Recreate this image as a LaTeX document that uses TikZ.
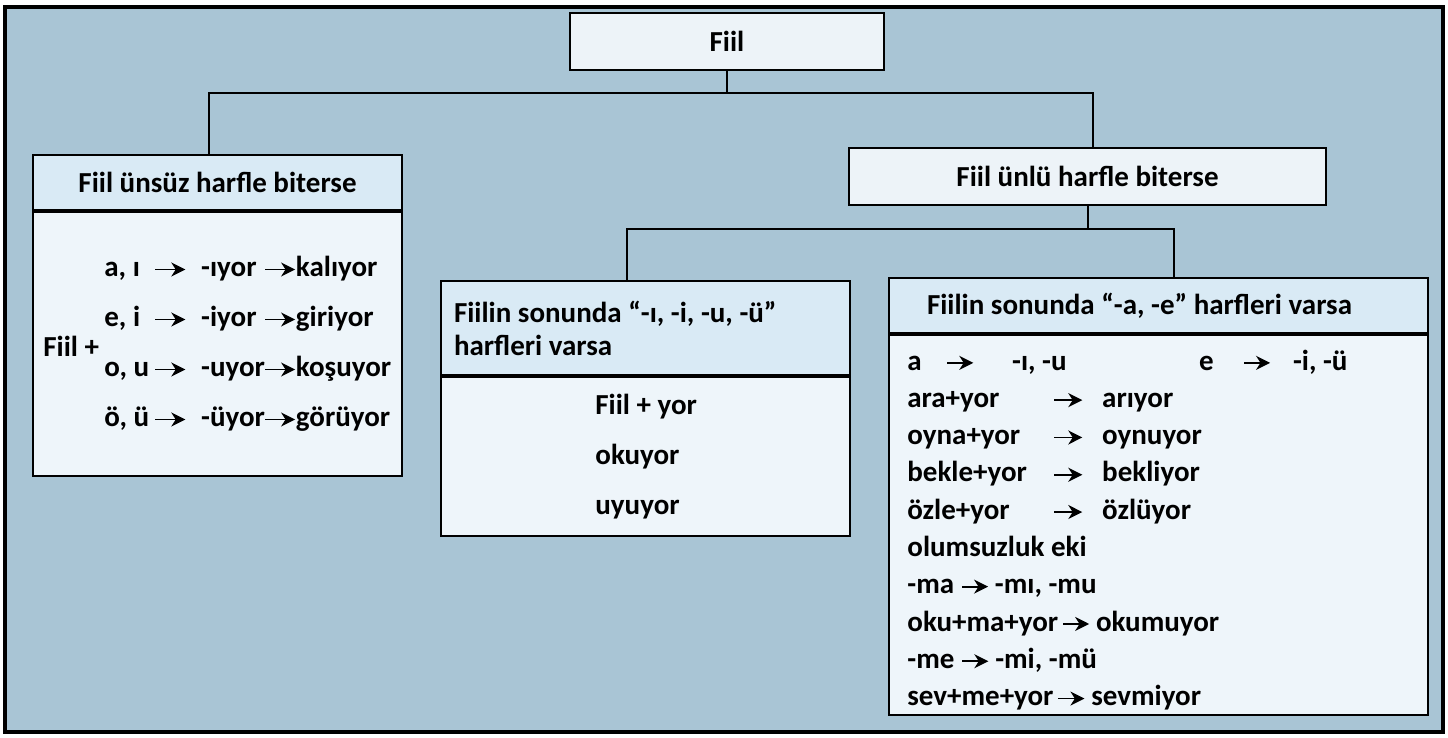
\documentclass[tikz,border=0pt]{standalone}
\usepackage{fontspec}
\setmainfont{Carlito}
\usetikzlibrary{arrows.meta,positioning}

\definecolor{zemin}{HTML}{A9C5D5}
\definecolor{baslikmavi}{HTML}{D9EAF5}
\definecolor{govdemavi}{HTML}{EEF5FA}
\definecolor{kutubeyaz}{HTML}{EDF3F8}

\newcommand{\ok}[1][14pt]{\tikz[baseline=-3.6pt]\draw[line width=0.9pt,-{Stealth[length=7pt,width=7pt,inset=2.2pt]}] (0pt,0pt) -- (#1,0pt);}
\newcommand{\solsatir}[3]{\makebox[25pt][l]{#1}\ok[15pt]\hspace{7.5pt}\makebox[31.5pt][l]{#2}\ok[15pt]#3}
\newcommand{\sagsatir}[2]{\makebox[73pt][l]{#1}\ok\hspace{9.5pt}#2}

\begin{document}
\begin{tikzpicture}[x=0.5pt, y=-0.5pt, font=\fontsize{14.5}{16.5}\selectfont\bfseries,
    kutu/.style={draw, line width=1pt, fill=kutubeyaz, inner sep=0pt},
    baslik/.style={kutu, fill=baslikmavi, anchor=north west},
    govde/.style={kutu, fill=govdemavi, below=0pt of #1},
    yazi/.style={anchor=west, align=flush left, inner sep=0pt},
    cizgi/.style={line width=1pt}]
    \useasboundingbox (0,0) rectangle (1448,738);
    \draw[line width=1.6pt, fill=zemin] (5,7) rectangle (1443,732);

    \node (fiil) [kutu, minimum width=157pt, minimum height=28.5pt] at (727,41.5) {Fiil};
    \node (unsuz) [baslik, minimum width=184.5pt, minimum height=27.5pt] at (32,154) {Fiil ünsüz harfle biterse};
    \node (unsuzgovde) [govde=unsuz, minimum width=184.5pt, minimum height=132pt] {};
    \node (unlu) [kutu, minimum width=238.5pt, minimum height=28.5pt] at (1087.5,176.5) {Fiil ünlü harfle biterse};
    \node (iuu) [baslik, minimum width=204.5pt, minimum height=47pt, text width=191.5pt, align=flush left, inner xsep=6.5pt] at (440,280) {Fiilin sonunda “-ı, -i, -u, -ü”\\harfleri varsa};
    \node (iuugovde) [govde=iuu, minimum width=204.5pt, minimum height=79.5pt] {};
    \node (ae) [baslik, minimum width=269.5pt, minimum height=27.5pt, text width=231.5pt, align=flush left, inner xsep=19pt] at (888,277) {Fiilin sonunda “-a, -e” harfleri varsa};
    \node (aegovde) [govde=ae, minimum width=269.5pt, minimum height=190pt] {};

    % kutu icerikleri
    \node (fiilarti) [yazi] at ([xshift=5.5pt, yshift=-1pt]unsuzgovde.west) {Fiil +};
    \node (ekler) [yazi, font=\fontsize{14.5}{25}\selectfont\bfseries] at ([xshift=36pt]unsuzgovde.west)
        {\solsatir{a, ı}{-ıyor}{kalıyor}\\\solsatir{e, i}{-iyor}{giriyor}\\\solsatir{o, u}{-uyor}{koşuyor}\\\solsatir{ö, ü}{-üyor}{görüyor}};
    \node (ornekler) [yazi, font=\fontsize{14.5}{25}\selectfont\bfseries] at ([xshift=77.5pt]iuugovde.west)
        {Fiil + yor\\okuyor\\uyuyor};
    \node (kurallar) [yazi, font=\fontsize{14.5}{18.65}\selectfont\bfseries] at ([xshift=9.5pt, yshift=-2.5pt]aegovde.west)
        {\makebox[19.5pt][l]{a}\ok[13pt]\hspace{19pt}\makebox[93.5pt][l]{-ı, -u}\makebox[22pt][l]{e}\ok[13pt]\hspace{11pt}-i, -ü\\
         \sagsatir{ara+yor}{arıyor}\\
         \sagsatir{oyna+yor}{oynuyor}\\
         \sagsatir{bekle+yor}{bekliyor}\\
         \sagsatir{özle+yor}{özlüyor}\\
         olumsuzluk eki\\
         -ma\hspace{3.5pt}\ok[13pt]\hspace{3pt}-mı, -mu\\
         oku+ma+yor\hspace{2pt}\ok[13pt]\hspace{3pt}okumuyor\\
         -me\hspace{3.5pt}\ok[13pt]\hspace{3pt}-mi, -mü\\
         sev+me+yor\hspace{2pt}\ok[13pt]\hspace{3pt}sevmiyor};

    % baglantilar
    \draw[cizgi] (fiil.south) -- ++(0,22) coordinate (dal1);
    \draw[cizgi] (dal1) -| ([xshift=-4.25pt]unsuz.north);
    \draw[cizgi] (dal1) -| ([xshift=2.75pt]unlu.north);
    \draw[cizgi] (unlu.south) -- ++(0,23) coordinate (dal2);
    \draw[cizgi] (dal2) -| ([xshift=-9.25pt]iuu.north);
    \draw[cizgi] (dal2) -| ([xshift=7.75pt]ae.north);
\end{tikzpicture}
\end{document}
